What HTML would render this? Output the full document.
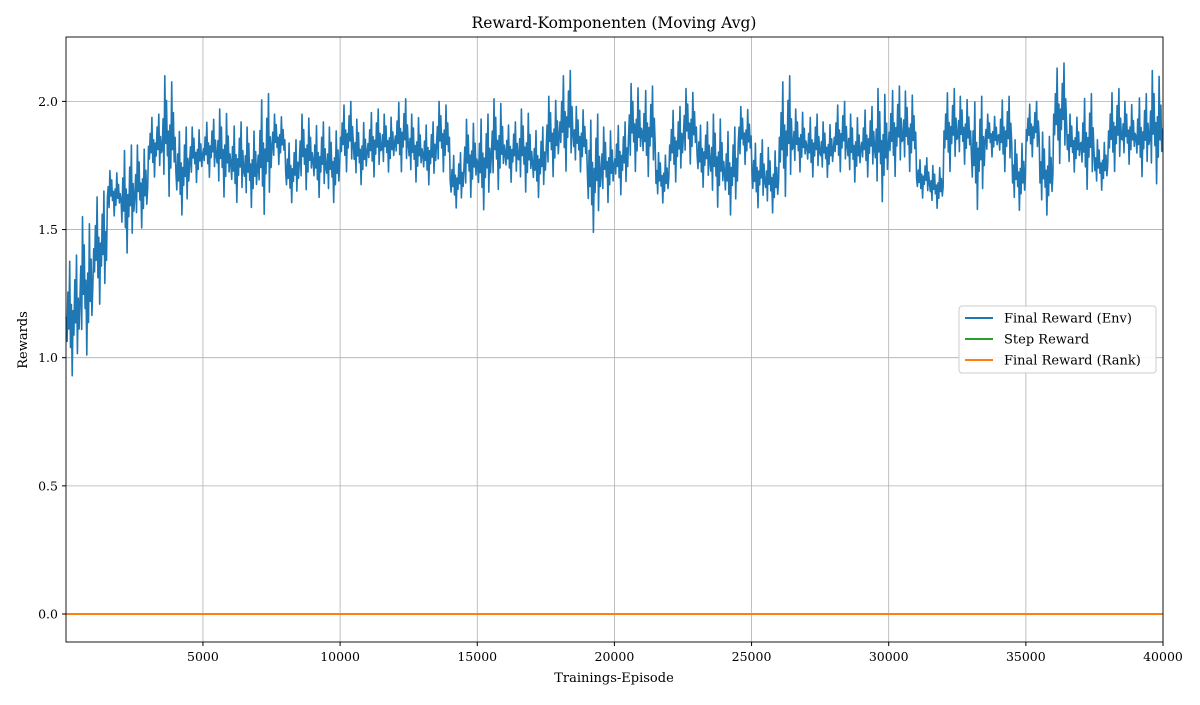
<!DOCTYPE html>
<html><head><meta charset="utf-8"><style>
body{margin:0;background:#fff;}
svg text{font-family:"DejaVu Serif","Liberation Serif",serif;fill:#000;}
</style></head><body>
<svg id="chart" width="1200" height="700">
<rect x="0" y="0" width="1200" height="700" fill="#fff"/>
<g id="grid"></g>
<g id="series"></g>
<rect x="66" y="37" width="1097" height="605" fill="none" stroke="#000" stroke-width="0.9"/>
<g id="axes"></g>
<text x="614" y="28" text-anchor="middle" font-size="15.5">Reward-Komponenten (Moving Avg)</text>
<text x="614" y="682" text-anchor="middle" font-size="13">Trainings-Episode</text>
<text x="27" y="340" text-anchor="middle" font-size="13" transform="rotate(-90 27 340)">Rewards</text>
<g>
<rect x="959" y="306" width="197" height="67" rx="3" fill="#fff" fill-opacity="0.85" stroke="#ccc"/>
<g><line x1="965" y1="318" x2="993" y2="318" stroke="#1f77b4" stroke-width="2"/><text x="1004" y="322.5" font-size="13">Final Reward (Env)</text></g>
<g><line x1="965" y1="339" x2="993" y2="339" stroke="#2ca02c" stroke-width="2"/><text x="1004" y="343.5" font-size="13">Step Reward</text></g>
<g><line x1="965" y1="360" x2="993" y2="360" stroke="#ff7f0e" stroke-width="2"/><text x="1004" y="364.5" font-size="13">Final Reward (Rank)</text></g>
</g>
</svg>
<script>
const binSize = 500;
const envHigh = [1.4,1.55,1.65,1.73,1.83,1.83,1.95,2.1,1.9,1.9,1.93,1.97,1.92,1.9,2.03,1.95,1.85,1.95,1.92,1.9,2.0,1.93,1.97,1.95,2.01,1.95,1.92,2.0,1.8,1.93,1.95,2.01,1.92,1.97,1.9,2.02,2.12,1.98,1.95,1.9,1.92,2.07,2.06,1.8,1.98,2.05,1.92,1.95,1.9,1.98,1.85,1.82,2.1,1.97,1.95,1.92,2.0,1.95,1.98,2.05,2.06,2.04,1.78,1.75,2.05,2.02,2.02,1.95,2.02,1.85,2.0,1.88,2.15,1.95,2.03,1.85,2.05,2.0,2.03,2.12];
const envLow = [0.92,1.0,1.2,1.55,1.4,1.5,1.7,1.62,1.55,1.68,1.7,1.62,1.6,1.58,1.55,1.75,1.6,1.65,1.62,1.6,1.72,1.67,1.7,1.72,1.72,1.68,1.67,1.72,1.58,1.62,1.57,1.65,1.68,1.64,1.62,1.7,1.72,1.72,1.48,1.6,1.63,1.72,1.7,1.6,1.68,1.75,1.66,1.58,1.55,1.75,1.58,1.56,1.62,1.72,1.7,1.7,1.72,1.68,1.7,1.6,1.7,1.72,1.62,1.58,1.72,1.75,1.57,1.78,1.72,1.57,1.78,1.55,1.75,1.72,1.65,1.65,1.72,1.75,1.7,1.67];
const stepReward = [0,0];
const rankReward = [0,0];
const xTicks = [5000,10000,15000,20000,25000,30000,35000,40000];
const yTicks = [0.0,0.5,1.0,1.5,2.0];
// rendering texture: fractions of the bin's low..high range visited by the noisy line
const wiggle = [0.5,0.3,0.7,0.4,0.95,0.25,0.6,0.02,0.55,0.35,0.8,0.45,1.0,0.2,0.65,0.4];
const xMin=0,xMax=40000;
const X=v=>65.8+(v-xMin)/(xMax-xMin)*1097.2;
const Y=v=>614-v*256.3;
const NS="http://www.w3.org/2000/svg";
function mk(t,a,p){const e=document.createElementNS(NS,t);for(const k in a)e.setAttribute(k,a[k]);p.appendChild(e);return e;}
const grid=document.getElementById('grid'),axes=document.getElementById('axes'),ser=document.getElementById('series');
xTicks.forEach(t=>{
 const g=mk('line',{x1:X(t),x2:X(t),y1:37,y2:642,stroke:'#b0b0b0','stroke-width':0.8},grid);
 
 
 mk('line',{x1:X(t),x2:X(t),y1:642,y2:646,stroke:'#000'},axes);
 const l=mk('text',{x:X(t),y:661,'text-anchor':'middle','font-size':12.5},axes);
 l.textContent=t;
 
 
});
yTicks.forEach(t=>{
 const g=mk('line',{x1:66,x2:1163,y1:Y(t),y2:Y(t),stroke:'#b0b0b0','stroke-width':0.8},grid);
 
 
 mk('line',{x1:62,x2:66,y1:Y(t),y2:Y(t),stroke:'#000'},axes);
 const l=mk('text',{x:58,y:Y(t)+4.5,'text-anchor':'end','font-size':12.5},axes);
 l.textContent=t.toFixed(1);
 
 
});
let d='';
const n=wiggle.length;
envHigh.forEach((h,i)=>{
 const lo=envLow[i];
 for(let k=0;k<n;k++){
  const ep=i*binSize+binSize*(k+0.5)/n;
  const f=(i%2)?wiggle[n-1-k]:wiggle[k];
  const v=lo+(h-lo)*f;
  d+=((i||k)?'L':'M')+X(ep).toFixed(1)+','+Y(v).toFixed(1);
 }
});
const env=mk('path',{d:d,fill:'none',stroke:'#1f77b4','stroke-width':1.6,'stroke-linejoin':'round'},ser);


const st=mk('line',{x1:X(xMin),x2:X(xMax),y1:Y(stepReward[0]),y2:Y(stepReward[1]),stroke:'#2ca02c','stroke-width':2},ser);


const rk=mk('line',{x1:X(xMin),x2:X(xMax),y1:Y(rankReward[0]),y2:Y(rankReward[1]),stroke:'#ff7f0e','stroke-width':2},ser);


</script>
</body></html>
